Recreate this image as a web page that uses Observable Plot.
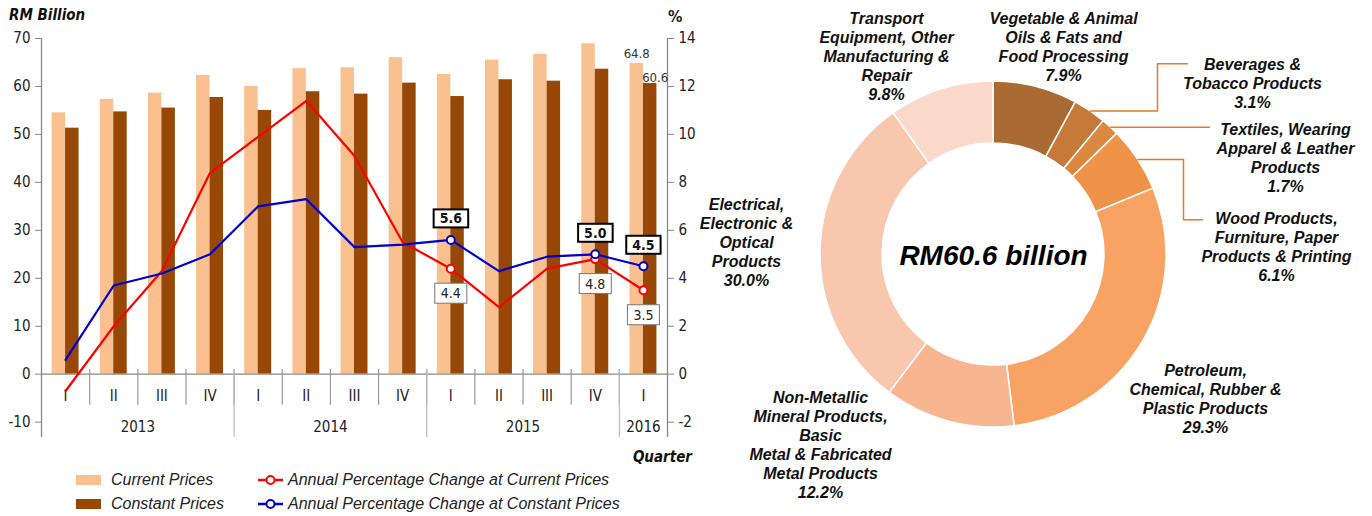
<!DOCTYPE html>
<html><head><meta charset="utf-8">
<script src="https://cdn.jsdelivr.net/npm/d3@7"></script>
<script src="https://cdn.jsdelivr.net/npm/@observablehq/plot@0.6"></script>
<style>
body{margin:0;background:#fff;}
#wrap{position:relative;width:1372px;height:516px;overflow:hidden;background:#fff;font-family:"Liberation Sans",Arial,sans-serif;}
#left{position:absolute;left:0;top:0;}
#right{position:absolute;left:700px;top:0;}
.note{position:absolute;font-family:"Liberation Sans Narrow","Arial Narrow","DejaVu Sans Condensed",sans-serif;font-weight:bold;font-style:italic;font-size:15px;color:#111;line-height:16px;white-space:nowrap;}
.pct{position:absolute;font-family:"Liberation Sans Narrow","Arial Narrow","DejaVu Sans Condensed",sans-serif;font-size:16px;color:#222;line-height:16px;}
.leg{position:absolute;font-style:italic;font-size:16px;color:#222;line-height:18px;white-space:nowrap;}
.sw{position:absolute;width:25px;height:10px;}
.ls{position:absolute;}
</style>
</head><body>
<div id="wrap">
  <div id="left"></div>
  <div id="right"></div>
  <div class="note" style="left:9px;top:7px;">RM Billion</div>
  <div class="pct" style="left:668px;top:9px;font-weight:bold;">%</div>
  <div class="note" style="right:680px;top:449px;">Quarter</div>
  <div class="sw" style="left:76px;top:475px;background:#FAC090;"></div>
  <div class="leg" style="left:111px;top:471px;">Current Prices</div>
  <div class="sw" style="left:76px;top:499px;background:#974706;"></div>
  <div class="leg" style="left:111px;top:495px;">Constant Prices</div>
  <svg class="ls" style="left:257px;top:474px;" width="27" height="12"><line x1="1" y1="6" x2="26" y2="6" stroke="#FF0000" stroke-width="2.5"/><circle cx="13.5" cy="6" r="4" fill="#fff" stroke="#FF0000" stroke-width="2"/></svg>
  <div class="leg" style="left:288px;top:471px;">Annual Percentage Change at Current Prices</div>
  <svg class="ls" style="left:257px;top:498px;" width="27" height="12"><line x1="1" y1="6" x2="26" y2="6" stroke="#0000CC" stroke-width="2.5"/><circle cx="13.5" cy="6" r="4" fill="#fff" stroke="#0000CC" stroke-width="2"/></svg>
  <div class="leg" style="left:288px;top:495px;">Annual Percentage Change at Constant Prices</div>
</div>
<script>
// ---------- Data: left chart ----------
const quarters = ["I","II","III","IV","I","II","III","IV","I","II","III","IV","I"];
const years = ["2013","2013","2013","2013","2014","2014","2014","2014","2015","2015","2015","2015","2016"];
const currentPrices = [54.5, 57.3, 58.6, 62.3, 60.0, 63.7, 63.9, 66.0, 62.5, 65.5, 66.7, 68.9, 64.8];
const constantPrices = [51.3, 54.7, 55.5, 57.7, 55.0, 58.9, 58.4, 60.7, 57.9, 61.4, 61.1, 63.6, 60.6];
const pctCurrent = [-0.7, 2.0, 4.3, 8.4, 9.9, 11.4, 9.1, 5.5, 4.4, 2.8, 4.4, 4.8, 3.5];
const pctConstant = [0.6, 3.7, 4.2, 5.0, 7.0, 7.3, 5.3, 5.4, 5.6, 4.3, 4.9, 5.0, 4.5];
const labelledQuarters = [8, 11, 12];
const leftTicks = [-10, 0, 10, 20, 30, 40, 50, 60, 70];

// ---------- Data: donut ----------
const sectors = [
  "Vegetable & Animal\nOils & Fats and\nFood Processing",
  "Beverages &\nTobacco Products",
  "Textiles, Wearing\nApparel & Leather\nProducts",
  "Wood Products,\nFurniture, Paper\nProducts & Printing",
  "Petroleum,\nChemical, Rubber &\nPlastic Products",
  "Non-Metallic\nMineral Products,\nBasic\nMetal & Fabricated\nMetal Products",
  "Electrical,\nElectronic &\nOptical\nProducts",
  "Transport\nEquipment, Other\nManufacturing &\nRepair"
];
const shares = [7.9, 3.1, 1.7, 6.1, 29.3, 12.2, 30.0, 9.8];
const totalLabel = "RM60.6 billion";

// ---------- Styles / layout ----------
const NARROW = '"Liberation Sans Narrow","Arial Narrow","DejaVu Sans Condensed",sans-serif';
const SANS = '"Liberation Sans",Arial,sans-serif';
const RATIO = 5; // left axis units per right-axis percent (70 / 14)
const sectorColors = ["#A96A33","#C57A3A","#DB8940","#EE9347","#F8A263","#F8B690","#F9C7AD","#FAD9CB"];
const labelPos = [[70,-208.5],[259,-172],[292,-97.5],[283,-8.5],[212,143.5],[-173,189.5],[-247,-13],[-107,-198.5]];
const leaders = [null, {elbowX:164, endY:-190.7, endX:194}, {endX:216}, {elbowX:190, endY:-34.7, endX:209}, null, null, null, null];
const outerR = 173, innerR = 111;

// ---------- Left chart ----------
const rows = quarters.map((q, i) => ({i, q, year: years[i], cur: currentPrices[i], con: constantPrices[i], pc: pctCurrent[i], pk: pctConstant[i]}));
const lab = rows.filter(d => labelledQuarters.includes(d.i));
const yearGroups = d3.groups(rows, d => d.year).map(([year, g]) => ({year, mid: d3.mean(g, d => d.i)}));
const xMin = -0.5, xMax = quarters.length - 0.5, yMin = -13.2, yMax = 70;
const qSeps = d3.range(1, quarters.length).map(k => k - 0.5);
const ySeps = rows.filter((d, k) => k > 0 && d.year !== rows[k-1].year).map(d => d.i - 0.5);
const last = rows[rows.length - 1];

const left = Plot.plot({
  width: 700, height: 445,
  marginLeft: 41, marginRight: 33, marginTop: 38, marginBottom: 8,
  x: {domain: [xMin, xMax], axis: null},
  y: {domain: [yMin, yMax], axis: null},
  style: {fontFamily: NARROW, fontSize: "15px", color: "#222", background: "white"},
  marks: [
    Plot.rectY(rows, {x1: d => d.i - 0.28, x2: d => d.i, y: "cur", fill: "#FAC090"}),
    Plot.rectY(rows, {x1: d => d.i, x2: d => d.i + 0.28, y: "con", fill: "#974706"}),
    Plot.ruleY([0], {x1: xMin, x2: xMax, stroke: "#888", strokeWidth: 1.3}),
    Plot.ruleX(qSeps, {y1: 1, y2: -6.5, stroke: "#999", strokeWidth: 1.2}),
    Plot.ruleX(ySeps, {y1: 1, y2: yMin, stroke: "#bbb", strokeWidth: 1.2}),
    Plot.ruleX([xMin, xMax], {y1: yMin, y2: yMax, stroke: "#888", strokeWidth: 1.3}),
    Plot.axisY({anchor: "left", ticks: leftTicks, tickSize: 6, tickPadding: 5, stroke: "#888", label: null, tickFormat: d => String(d)}),
    Plot.axisY({anchor: "right", ticks: leftTicks, tickSize: 6, tickPadding: 5, stroke: "#888", label: null, tickFormat: d => String(d / RATIO)}),
    Plot.text(rows, {x: "i", y: -4.5, text: "q", fill: "#222"}),
    Plot.text(yearGroups, {x: "mid", y: -11, text: "year", fill: "#222"}),
    Plot.line(rows, {x: "i", y: d => d.pc * RATIO, stroke: "#FF0000", strokeWidth: 2.2}),
    Plot.line(rows, {x: "i", y: d => d.pk * RATIO, stroke: "#0000CC", strokeWidth: 2.2}),
    Plot.dot(lab, {x: "i", y: d => d.pc * RATIO, r: 4, fill: "white", stroke: "#FF0000", strokeWidth: 2}),
    Plot.dot(lab, {x: "i", y: d => d.pk * RATIO, r: 4, fill: "white", stroke: "#0000CC", strokeWidth: 2}),
    Plot.text(lab, {x: "i", y: d => d.pk * RATIO, text: d => d.pk.toFixed(1), dy: -21, fontWeight: "bold", fontSize: 14, fill: "#111", ariaDescription: "blue-labels"}),
    Plot.text(lab, {x: "i", y: d => d.pc * RATIO, text: d => d.pc.toFixed(1), dy: 25, fontSize: 14, fill: "#222", ariaDescription: "red-labels"}),
    Plot.text([last], {x: d => d.i - 0.14, y: "cur", text: d => d.cur.toFixed(1), dy: -10, fontSize: 13, fill: "#333"}),
    Plot.text([last], {x: d => d.i + 0.14, y: "con", text: d => d.con.toFixed(1), dy: -6, dx: 5, fontSize: 13, fill: "#333"})
  ]
});
document.getElementById("left").appendChild(left);

// label boxes
for (const [name, stroke, sw, px, py] of [["blue-labels", "#000", 2, 6, 1], ["red-labels", "#777", 1, 6, 2]]) {
  left.querySelectorAll(`[aria-description="${name}"] text`).forEach(t => {
    const b = t.getBBox();
    const r = document.createElementNS("http://www.w3.org/2000/svg", "rect");
    r.setAttribute("x", b.x - px); r.setAttribute("y", b.y - py);
    r.setAttribute("width", b.width + 2 * px); r.setAttribute("height", b.height + 2 * py);
    r.setAttribute("fill", "white"); r.setAttribute("stroke", stroke); r.setAttribute("stroke-width", sw);
    const tr = t.getAttribute("transform"); if (tr) r.setAttribute("transform", tr);
    t.parentNode.insertBefore(r, t);
  });
}

// ---------- Donut ----------
const pie = d3.pie().sort(null).value(d => d)(shares);
const labelRows = sectors.map((s, k) => ({name: s, share: shares[k], x: labelPos[k][0], y: labelPos[k][1]}));
const leaderLines = [];
pie.forEach((p, k) => {
  const L = leaders[k]; if (!L) return;
  const a = (p.startAngle + p.endAngle) / 2;
  const x0 = outerR * Math.sin(a), y0 = -outerR * Math.cos(a);
  const pts = L.elbowX != null
    ? [[x0, y0], [L.elbowX, y0], [L.elbowX, L.endY], [L.endX, L.endY]]
    : [[x0, y0], [L.endX, y0]];
  pts.forEach(([x, y]) => leaderLines.push({k, x, y}));
});

const donutMark = (index, scales) => {
  const cx = scales.x(0), cy = scales.y(0), kx = scales.x(1) - scales.x(0);
  const arc = d3.arc().innerRadius(innerR * kx).outerRadius(outerR * kx);
  const g = d3.create("svg:g").attr("transform", `translate(${cx},${cy})`);
  g.selectAll("path").data(pie).join("path")
    .attr("d", arc).attr("fill", (d, i) => sectorColors[i])
    .attr("stroke", "white").attr("stroke-width", 1.5);
  return g.node();
};

const right = Plot.plot({
  width: 672, height: 516, margin: 0,
  x: {type: "linear", domain: [-293, 379], range: [0, 672], axis: null},
  y: {type: "linear", domain: [-254, 262], range: [0, 516], axis: null},
  style: {fontFamily: SANS, color: "#111", background: "white"},
  marks: [
    donutMark,
    Plot.line(leaderLines, {x: "x", y: "y", z: "k", stroke: "#E8782A", strokeWidth: 1.5, curve: "linear"}),
    Plot.text(labelRows, {x: "x", y: "y", text: d => d.name + "\n" + d.share.toFixed(1) + "%", fontSize: 16, fontWeight: "bold", fontStyle: "italic", lineHeight: 19 / 16, lineAnchor: "middle", textAnchor: "middle", fill: "#111"}),
    Plot.text([totalLabel], {x: () => 0, y: () => 2, text: d => d, fontSize: 28, fontWeight: "bold", fontStyle: "italic", fill: "#000"})
  ]
});
document.getElementById("right").appendChild(right);
</script>
</body></html>
